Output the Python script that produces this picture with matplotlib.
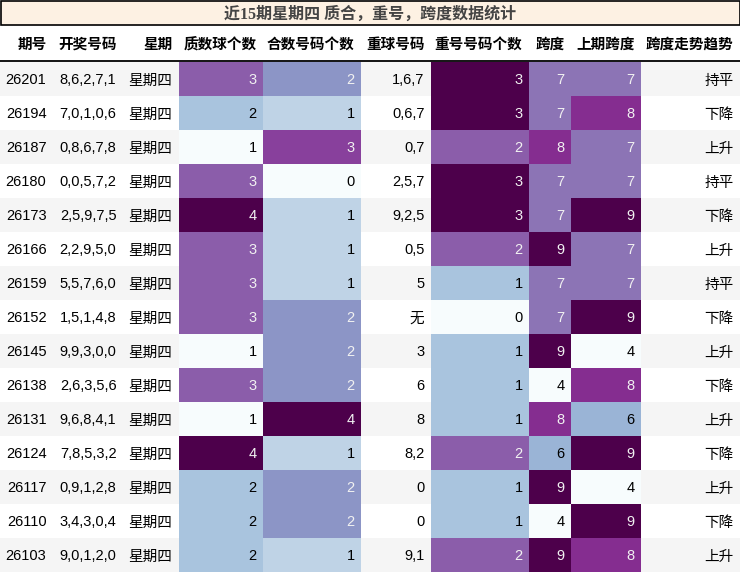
import numpy as np
import matplotlib
matplotlib.use('Agg')
import matplotlib.pyplot as plt
from matplotlib.patches import Rectangle
from matplotlib import colors as mcolors

title = '近15期星期四 质合，重号，跨度数据统计'
headers = ['期号', '开奖号码', '星期', '质数球个数', '合数号码个数', '重球号码',
           '重号号码个数', '跨度', '上期跨度', '跨度走势趋势']

issue = ['26201', '26194', '26187', '26180', '26173', '26166', '26159', '26152',
         '26145', '26138', '26131', '26124', '26117', '26110', '26103']
numbers = ['8,6,2,7,1', '7,0,1,0,6', '0,8,6,7,8', '0,0,5,7,2', '2,5,9,7,5',
           '2,2,9,5,0', '5,5,7,6,0', '1,5,1,4,8', '9,9,3,0,0', '2,6,3,5,6',
           '9,6,8,4,1', '7,8,5,3,2', '0,9,1,2,8', '3,4,3,0,4', '9,0,1,2,0']
weekday = ['星期四'] * 15
prime_cnt = [3, 2, 1, 3, 4, 3, 3, 3, 1, 3, 1, 4, 2, 2, 2]
comp_cnt = [2, 1, 3, 0, 1, 1, 1, 2, 2, 2, 4, 1, 2, 2, 1]
repeat_nums = ['1,6,7', '0,6,7', '0,7', '2,5,7', '9,2,5', '0,5', '5', '无',
               '3', '6', '8', '8,2', '0', '0', '9,1']
repeat_cnt = [3, 3, 2, 3, 3, 2, 1, 0, 1, 1, 1, 2, 1, 1, 2]
span = [7, 7, 8, 7, 7, 9, 7, 7, 9, 4, 8, 6, 9, 4, 9]
prev_span = [7, 8, 7, 7, 9, 7, 7, 9, 4, 8, 6, 9, 4, 9, 8]
trend = ['持平', '下降', '上升', '持平', '下降', '上升', '持平', '下降', '上升',
         '下降', '上升', '下降', '上升', '下降', '上升']

columns = [issue, numbers, weekday, prime_cnt, comp_cnt, repeat_nums,
           repeat_cnt, span, prev_span, trend]
gradient_cols = {3, 4, 6, 7, 8}

col_edges = [0, 53, 123, 179, 263, 361, 431, 529, 571, 641, 740]
W, H = 740, 573
title_top, title_bot = 1, 25
head_bot = 61
row_h = 34

fonts = ['Liberation Sans', 'Noto Sans CJK SC', 'DejaVu Sans']
cmap = plt.get_cmap('BuPu')


def lum(rgba):
    c = [x / 12.92 if x <= 0.04045 else ((x + 0.055) / 1.055) ** 2.4 for x in rgba[:3]]
    return 0.2126 * c[0] + 0.7152 * c[1] + 0.0722 * c[2]


fig = plt.figure(figsize=(W / 100, H / 100), dpi=100)
ax = fig.add_axes([0, 0, 1, 1])
ax.set_xlim(0, W)
ax.set_ylim(H, 0)
ax.axis('off')

# title bar
ax.add_patch(Rectangle((0.5, title_top), W - 1, title_bot - title_top,
                       facecolor='#fdf1e3', edgecolor='black', lw=1.2))
ax.text(W / 2, (title_top + title_bot) / 2 + 1.5, title, ha='center', va='center',
        fontsize=11.5, fontweight='bold', color='#444444',
        family=['Liberation Serif', 'Noto Sans CJK SC'])

# header
for j, h in enumerate(headers):
    ax.text(col_edges[j + 1] - 6.5, (title_bot + head_bot) / 2 + 2, h,
            ha='right', va='center', fontsize=10.5, fontweight='bold',
            family=fonts, color='black')
ax.plot([0, W], [head_bot, head_bot], color='black', lw=1.3)

# body
for i in range(15):
    y0 = head_bot + 1 + i * row_h
    if i % 2 == 0:
        ax.add_patch(Rectangle((0, y0), W, row_h, facecolor='#f5f5f5', lw=0))
    for j, col in enumerate(columns):
        x0, x1 = col_edges[j], col_edges[j + 1]
        tcolor = 'black'
        if j in gradient_cols:
            norm = mcolors.Normalize(min(col), max(col))
            rgba = cmap(norm(col[i]))
            ax.add_patch(Rectangle((x0, y0), x1 - x0, row_h, facecolor=rgba, lw=0))
            if lum(rgba) < 0.408:
                tcolor = '#f1f1f1'
        ax.text(x1 - 6.5, y0 + row_h / 2 + 1.5, str(col[i]), ha='right', va='center',
                fontsize=10.5, family=fonts, color=tcolor)

plt.savefig('out.png', dpi=100)
